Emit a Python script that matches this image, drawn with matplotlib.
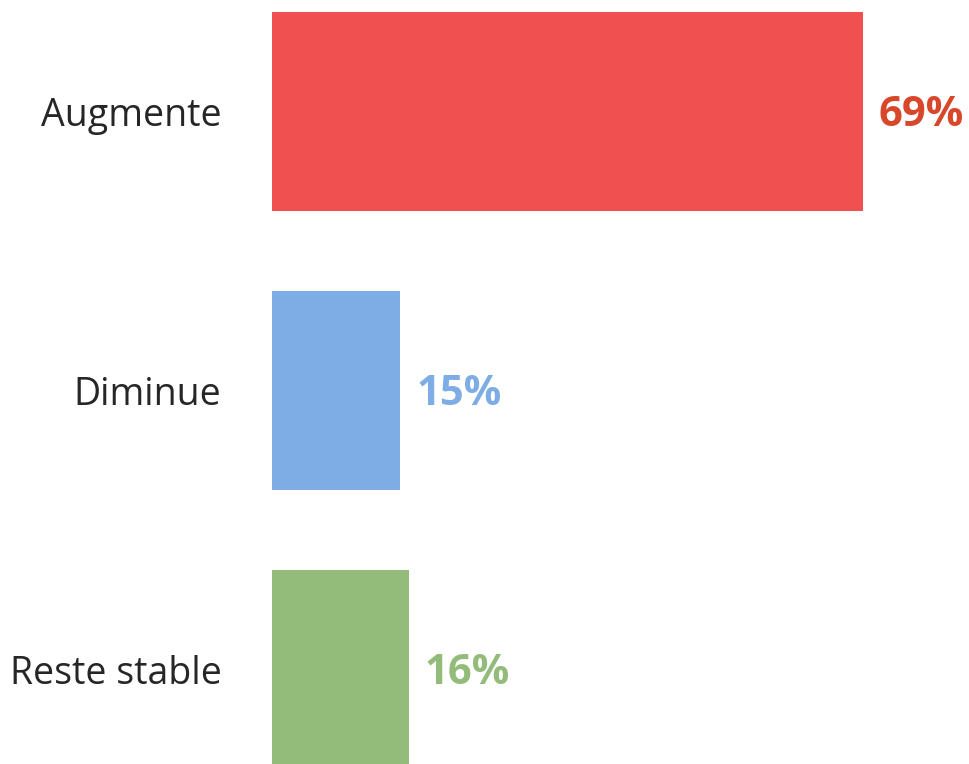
import matplotlib.pyplot as plt

categories = ['Augmente', 'Diminue', 'Reste stable']
values = [69, 15, 16]
bar_colors = ['#F05050', '#7EADE6', '#93BC7B']
label_colors = ['#D9472B', '#7EADE6', '#93BC7B']

W, H = 969, 764
fig = plt.figure(figsize=(W / 100, H / 100), dpi=100)
ax_left = 271.5 / W
ax = fig.add_axes([ax_left, 0, 1 - ax_left, 1])

px_per_cat = 279.0
top_center = 111.5
ax.set_ylim((H - top_center) / px_per_cat, -top_center / px_per_cat)
ax.set_xlim(0, (W - 271.5) / 8.572)

ypos = list(range(len(categories)))
ax.barh(ypos, values, height=199 / px_per_cat, color=bar_colors)

for y, v, c in zip(ypos, values, label_colors):
    ax.annotate(f'{v}%', (v, y), xytext=(16, -4), textcoords='offset pixels',
                va='center', ha='left', fontsize=30, fontweight='bold',
                color=c, family='Open Sans')

ax.set_yticks(ypos)
ax.set_yticklabels(categories, fontsize=27, color='#262626', family='Open Sans')
ax.tick_params(axis='y', length=0, pad=36)
ax.set_xticks([])
for s in ax.spines.values():
    s.set_visible(False)

fig.savefig('out.png', dpi=100)
